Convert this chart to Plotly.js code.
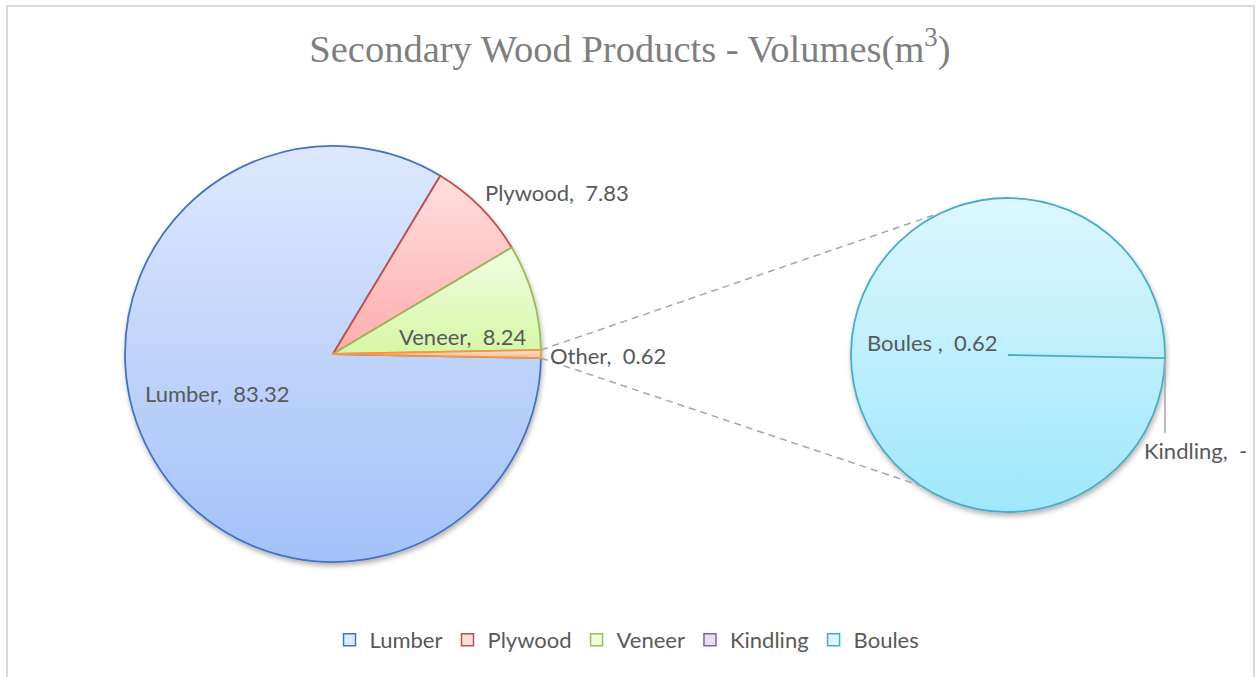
<!DOCTYPE html>
<html>
<head>
<meta charset="utf-8">
<script src="https://cdn.plot.ly/plotly-3.0.1.min.js"></script>
<style>html,body{margin:0;padding:0;background:#fff;}#chart{width:1256px;height:677px;}</style>
</head>
<body>
<div id="chart"></div>
<script>
// ---- data ----
const mainLabels = ['Lumber', 'Plywood', 'Veneer', 'Other'];
const mainValues = [83.32, 7.83, 8.24, 0.62];
const secondLabels = ['Kindling', 'Boules '];
const secondValues = [0, 0.62];
const legendLabels = ['Lumber', 'Plywood', 'Veneer', 'Kindling', 'Boules'];
const chartTitle = 'Secondary Wood Products - Volumes(m<sup>3</sup>)';

// ---- styles ----
const W = 1256, H = 677;
const fx = p => p / W, fy = p => 1 - p / H;
const palette = {
  Lumber:   {top: '#dde8fd', bottom: '#a3c1f9', line: '#4472c4'},
  Plywood:  {top: '#ffdede', bottom: '#ffadad', line: '#c0504d'},
  Veneer:   {top: '#f1fde3', bottom: '#d6f7a6', line: '#9bbb59'},
  Other:    {top: '#fde2cc', bottom: '#fbbd8c', line: '#f79646'},
  Kindling: {top: '#e8e0f2', bottom: '#cbbde0', line: '#8064a2'},
  Boules:   {top: '#dcf7fe', bottom: '#a0e7fb', line: '#4bacc6'}
};
const key = l => l.trim();
const mid = c => c.bottom;
const pie1 = {cx: 333, cy: 354, r: 208};
const pie2 = {cx: 1008, cy: 355, r: 157};
const labelFont = {family: 'Lato, sans-serif', size: 22, color: '#595959'};
const legendFont = {family: 'Lato, sans-serif', size: 22, color: '#595959'};
const labelPos = {
  Lumber: [143, 393], Plywood: [483, 192], Veneer: [397, 337], Other: [548, 355],
  'Boules ': [865, 342], Kindling: [1142, 450]
};
const NB = '\u00a0';
const fmt = v => v === 0 ? '-' : v.toFixed(2);

const total1 = mainValues.reduce((a, b) => a + b, 0);
const otherHalfDeg = mainValues[mainValues.length - 1] / total1 * 180;
const rotation = 90 + otherHalfDeg;

function dom(p) {
  return {x: [fx(p.cx - p.r), fx(p.cx + p.r)], y: [fy(p.cy + p.r), fy(p.cy - p.r)]};
}

const traces = [
  {
    type: 'pie', labels: mainLabels, values: mainValues, sort: false,
    direction: 'clockwise', rotation: rotation, domain: dom(pie1),
    textinfo: 'none', hoverinfo: 'label+value', showlegend: false,
    marker: {colors: mainLabels.map(l => mid(palette[key(l)])),
             line: {color: mainLabels.map(l => palette[key(l)].line), width: 1.8}}
  },
  {
    type: 'pie', labels: secondLabels, values: secondValues, sort: false,
    direction: 'clockwise', rotation: rotation, domain: dom(pie2),
    textinfo: 'none', hoverinfo: 'label+value', showlegend: false,
    marker: {colors: secondLabels.map(l => mid(palette[key(l)])),
             line: {color: secondLabels.map(l => palette.Boules.line), width: 1.8}}
  }
];
legendLabels.forEach(l => {
  traces.push({
    type: 'scatter', mode: 'markers', x: [null], y: [null], name: l, showlegend: true,
    marker: {symbol: 'square', size: 12, color: palette[l].top, line: {color: palette[l].line, width: 1.5}}
  });
});

// annotations (labels)
const annotations = [];
mainLabels.forEach((l, i) => {
  const p = labelPos[l];
  annotations.push({text: l + ',' + NB + NB + fmt(mainValues[i]), x: fx(p[0]), y: fy(p[1]),
    xref: 'paper', yref: 'paper', xanchor: 'left', yanchor: 'middle', showarrow: false, font: labelFont});
});
secondLabels.forEach((l, i) => {
  const p = labelPos[l];
  annotations.push({text: l + ',' + NB + NB + fmt(secondValues[i]), x: fx(p[0]), y: fy(p[1]),
    xref: 'paper', yref: 'paper', xanchor: 'left', yanchor: 'middle', showarrow: false, font: labelFont});
});

// connector lines
const rad = d => d * Math.PI / 180;
const ptOn = (p, deg) => [p.cx + p.r * Math.cos(rad(deg)), p.cy - p.r * Math.sin(rad(deg))];
const a1 = ptOn(pie1, otherHalfDeg), b1 = ptOn(pie1, -otherHalfDeg);
const a2 = ptOn(pie2, 114), b2 = ptOn(pie2, 236.5);
const dashLine = {color: '#a6a6a6', width: 1.5, dash: '7px,5px'};
const kEdge = ptOn(pie2, -otherHalfDeg);
const shapes = [
  {type: 'rect', xref: 'paper', yref: 'paper', x0: fx(7), x1: fx(1254), y0: fy(720), y1: fy(6),
   line: {color: '#d9d9d9', width: 2}, fillcolor: 'rgba(0,0,0,0)'},
  {type: 'line', xref: 'paper', yref: 'paper', x0: fx(a1[0]), y0: fy(a1[1]), x1: fx(a2[0]), y1: fy(a2[1]), line: dashLine},
  {type: 'line', xref: 'paper', yref: 'paper', x0: fx(b1[0]), y0: fy(b1[1]), x1: fx(b2[0]), y1: fy(b2[1]), line: dashLine},
  {type: 'line', xref: 'paper', yref: 'paper', x0: fx(pie2.cx), y0: fy(pie2.cy), x1: fx(kEdge[0]), y1: fy(kEdge[1]),
   line: {color: palette.Boules.line, width: 1.8}},
  {type: 'line', xref: 'paper', yref: 'paper', x0: fx(kEdge[0]), y0: fy(kEdge[1] + 1), x1: fx(kEdge[0]), y1: fy(433),
   line: {color: '#a6a6a6', width: 1.5}}
];

const layout = {
  width: W, height: H,
  margin: {l: 0, r: 0, t: 0, b: 0},
  paper_bgcolor: '#ffffff', plot_bgcolor: '#ffffff',
  title: {text: chartTitle, font: {family: '"Liberation Serif", "Times New Roman", serif', size: 38.5, color: '#7f7f7f'},
          x: fx(630), xanchor: 'center', y: fy(49), yanchor: 'middle', xref: 'paper', yref: 'paper'},
  xaxis: {visible: false}, yaxis: {visible: false},
  showlegend: true,
  legend: {orientation: 'h', x: fx(627), xanchor: 'center', y: fy(640), yanchor: 'middle',
           font: legendFont, bgcolor: 'rgba(0,0,0,0)', traceorder: 'normal'},
  annotations: annotations,
  shapes: shapes,
  hovermode: false
};

Plotly.newPlot('chart', traces, layout, {displayModeBar: false, staticPlot: true}).then(gd => {
  const svg = gd.querySelector('svg.main-svg');
  const NS = 'http://www.w3.org/2000/svg';
  let defs = svg.querySelector('defs');
  if (!defs) { defs = document.createElementNS(NS, 'defs'); svg.insertBefore(defs, svg.firstChild); }
  Object.keys(palette).forEach(k => {
    const g = document.createElementNS(NS, 'linearGradient');
    g.setAttribute('id', 'grad-' + k);
    g.setAttribute('x1', '0'); g.setAttribute('y1', '0'); g.setAttribute('x2', '0'); g.setAttribute('y2', '1');
    [['0', palette[k].top], ['1', palette[k].bottom]].forEach(s => {
      const st = document.createElementNS(NS, 'stop');
      st.setAttribute('offset', s[0]); st.setAttribute('stop-color', s[1]);
      g.appendChild(st);
    });
    defs.appendChild(g);
  });
  // soft shadow under the pies
  const f = document.createElementNS(NS, 'filter');
  f.setAttribute('id', 'pieShadow');
  f.setAttribute('x', '-10%'); f.setAttribute('y', '-10%'); f.setAttribute('width', '130%'); f.setAttribute('height', '130%');
  const ds = document.createElementNS(NS, 'feDropShadow');
  ds.setAttribute('dx', '1'); ds.setAttribute('dy', '3'); ds.setAttribute('stdDeviation', '2.5');
  ds.setAttribute('flood-color', '#000'); ds.setAttribute('flood-opacity', '0.3');
  f.appendChild(ds);
  defs.appendChild(f);
  gd.querySelectorAll('g.pielayer g.trace').forEach(t => t.setAttribute('filter', 'url(#pieShadow)'));

  gd.querySelectorAll('g.slice').forEach(sl => {
    const pt = sl.__data__;
    const lab = pt && (pt.label !== undefined ? pt.label : null);
    if (lab === null) return;
    const k = key(String(lab));
    const path = sl.querySelector('path.surface');
    if (path && palette[k]) path.style.fill = 'url(#grad-' + k + ')';
  });
});
</script>
</body>
</html>
